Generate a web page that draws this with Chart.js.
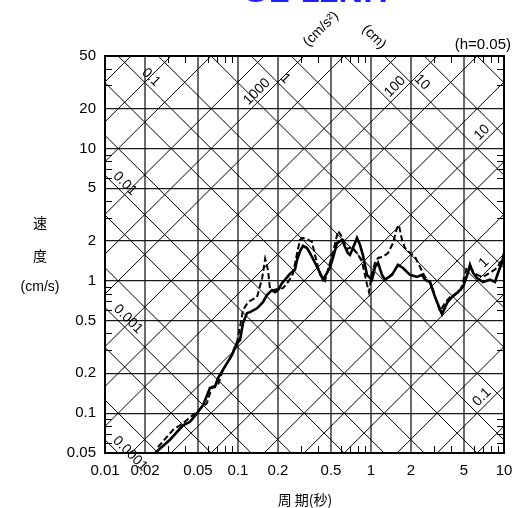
<!DOCTYPE html>
<html><head><meta charset="utf-8">
<script src="https://cdn.jsdelivr.net/npm/chart.js@4.4.0/dist/chart.umd.min.js"></script>
<style>html,body{margin:0;padding:0;background:#fff;overflow:hidden}#wrap{width:512px;height:508px;position:relative}</style>
</head><body><div id="wrap"><canvas id="c" width="512" height="508"></canvas></div>
<script>
const titleText = 'GL-12NH';
const periodTicks = [0.01,0.02,0.05,0.1,0.2,0.5,1,2,5,10];
const periodTickLabels = ['0.01','0.02','0.05','0.1','0.2','0.5','1','2','5','10'];
const velocityTicks = [0.05,0.1,0.2,0.5,1,2,5,10,20,50];
const velocityTickLabels = ['0.05','0.1','0.2','0.5','1','2','5','10','20','50'];

const solidPeriods = [0.0238,0.0308,0.0386,0.0436,0.0492,0.0546,0.0616,0.0671,0.0707,0.0827,0.0902,0.0983,0.1035,0.109,0.117,0.123,0.139,0.154,0.165,0.180,0.190,0.200,0.214,0.226,0.246,0.268,0.278,0.293,0.308,0.330,0.348,0.379,0.414,0.436,0.467,0.492,0.518,0.555,0.605,0.638,0.671,0.695,0.758,0.785,0.827,0.871,0.933,1.017,1.072,1.129,1.21,1.274,1.439,1.596,1.740,1.964,2.218,2.418,2.547,2.777,3.03,3.42,3.73,4.07,4.43,4.92,5.36,5.55,5.85,6.27,6.95,7.85,8.56,9.02,9.66,10.0];
const solidVelocity = [0.050,0.063,0.081,0.086,0.100,0.115,0.155,0.158,0.184,0.239,0.275,0.339,0.357,0.48,0.571,0.58,0.62,0.69,0.78,0.85,0.82,0.85,0.96,1.02,1.13,1.21,1.44,1.68,1.84,1.77,1.62,1.37,1.15,1.02,1.15,1.27,1.49,1.93,2.04,1.80,1.62,1.57,1.93,2.11,1.87,1.55,1.11,1.02,1.27,1.37,1.11,1.02,1.11,1.32,1.25,1.11,1.07,1.11,1.02,0.98,0.755,0.56,0.68,0.755,0.81,0.90,1.15,1.32,1.15,1.05,0.98,1.02,0.98,1.15,1.37,1.62];

const dashedPeriods = [0.025,0.0324,0.0386,0.0458,0.0584,0.0637,0.0707,0.0770,0.0871,0.0983,0.1035,0.109,0.119,0.139,0.152,0.160,0.168,0.174,0.183,0.200,0.218,0.238,0.259,0.278,0.293,0.303,0.330,0.360,0.379,0.414,0.451,0.475,0.518,0.565,0.605,0.660,0.719,0.785,0.856,0.933,0.966,1.017,1.072,1.129,1.23,1.342,1.464,1.569,1.62,1.711,1.801,1.964,2.142,2.336,2.547,2.777,2.926,3.30,3.60,3.93,4.43,4.67,5.27,5.55,6.27,6.95,7.85,8.86,9.33,10.0];
const dashedVelocity = [0.0554,0.0746,0.084,0.0967,0.119,0.158,0.163,0.212,0.26,0.344,0.447,0.60,0.69,0.755,1.05,1.47,1.21,0.87,0.85,0.87,0.88,0.98,1.13,1.62,2.04,2.11,2.07,1.97,1.57,1.11,1.0,1.21,1.65,2.38,2.15,1.74,1.80,1.62,1.40,0.94,0.82,1.15,1.37,1.49,1.52,1.62,1.93,2.51,2.64,2.04,1.77,1.62,1.52,1.27,1.07,0.98,0.85,0.59,0.68,0.755,0.81,0.82,1.27,1.25,1.11,1.07,1.15,1.25,1.37,1.52];

// diagonal grid values: displacement (cm) and acceleration (cm/s^2)
const dispLineValues = [];
const accLineValues = [];
for (let e = -5; e <= 3; e++) for (const m of [1,2,5]) dispLineValues.push(m*Math.pow(10,e));
for (let e = -2; e <= 6; e++) for (const m of [1,2,5]) accLineValues.push(m*Math.pow(10,e));
const dispLabelText = ['0.0001','0.001','0.01','0.1','1','10'];
const dispLabelValue = [0.0001,0.001,0.01,0.1,1,10];
const dispLabelPeriod = [0.0140,0.0135,0.0128,0.0201,0.205,2.19];
const accLabelText = ['1000','100','10','1','0.1'];
const accLabelValue = [1000,100,10,1,0.1];
const accLabelPeriod = [0.153,1.67,7.53,7.79,7.53];
const minorMultipliers = [3,4,6,7,8,9];

const FONT = 'Liberation Sans, Arial, sans-serif';
const CJK = 'Noto Sans CJK JP, sans-serif';
const TWO_PI = 2*Math.PI;

const tripartite = {
  id: 'tripartite',
  beforeDatasetsDraw(chart) {
    const {ctx, chartArea: a, scales: {x, y}} = chart;
    ctx.save();
    ctx.beginPath(); ctx.rect(a.left, a.top, a.right-a.left, a.bottom-a.top); ctx.clip();
    ctx.strokeStyle = '#000'; ctx.lineWidth = 1;
    const T1 = 0.001, T2 = 100;
    for (const D of dispLineValues) {
      ctx.beginPath();
      ctx.moveTo(x.getPixelForValue(T1), y.getPixelForValue(TWO_PI*D/T1));
      ctx.lineTo(x.getPixelForValue(T2), y.getPixelForValue(TWO_PI*D/T2));
      ctx.stroke();
    }
    for (const A of accLineValues) {
      ctx.beginPath();
      ctx.moveTo(x.getPixelForValue(T1), y.getPixelForValue(A*T1/TWO_PI));
      ctx.lineTo(x.getPixelForValue(T2), y.getPixelForValue(A*T2/TWO_PI));
      ctx.stroke();
    }
    ctx.restore();
  },
  afterDraw(chart) {
    const {ctx, chartArea: a, scales: {x, y}} = chart;
    ctx.save();
    // minor ticks
    ctx.strokeStyle = '#000'; ctx.lineWidth = 1;
    const L = 7;
    for (const dec of [0.01,0.1,1]) for (const m of minorMultipliers) {
      const px = Math.round(x.getPixelForValue(m*dec)) + 0.5;
      ctx.beginPath();
      ctx.moveTo(px, a.bottom); ctx.lineTo(px, a.bottom-L);
      ctx.moveTo(px, a.top); ctx.lineTo(px, a.top+L);
      ctx.stroke();
    }
    for (const dec of [0.01,0.1,1,10]) for (const m of minorMultipliers) {
      const v = m*dec;
      if (v <= 0.05 || v >= 50) continue;
      const py = Math.round(y.getPixelForValue(v)) + 0.5;
      ctx.beginPath();
      ctx.moveTo(a.left, py); ctx.lineTo(a.left+L, py);
      ctx.moveTo(a.right, py); ctx.lineTo(a.right-L, py);
      ctx.stroke();
    }
    // frame
    ctx.lineWidth = 2;
    ctx.strokeRect(a.left, a.top, a.right-a.left, a.bottom-a.top);
    // diagonal labels
    ctx.fillStyle = '#000';
    ctx.font = '14px ' + FONT;
    ctx.textAlign = 'center'; ctx.textBaseline = 'bottom';
    dispLabelText.forEach((t, i) => {
      const T = dispLabelPeriod[i];
      const px = x.getPixelForValue(T), py = y.getPixelForValue(TWO_PI*dispLabelValue[i]/T);
      ctx.save(); ctx.translate(px, py); ctx.rotate(Math.PI/4); ctx.fillText(t, 0, -1); ctx.restore();
    });
    accLabelText.forEach((t, i) => {
      const T = accLabelPeriod[i];
      const px = x.getPixelForValue(T), py = y.getPixelForValue(accLabelValue[i]*T/TWO_PI);
      ctx.save(); ctx.translate(px, py); ctx.rotate(-Math.PI/4); ctx.fillText(t, 0, -1); ctx.restore();
    });
    // unit labels
    ctx.textBaseline = 'middle';
    ctx.font = '14px ' + FONT;
    ctx.save(); ctx.translate(321, 29); ctx.rotate(-Math.PI/4); ctx.fillText('(cm/s²)', 0, 0); ctx.restore();
    ctx.save(); ctx.translate(374, 37); ctx.rotate(Math.PI/4); ctx.fillText('(cm)', 0, 0); ctx.restore();
    ctx.font = '15px ' + FONT;
    ctx.textAlign = 'right';
    ctx.fillText('(h=0.05)', 511, 45);
    // axis titles
    ctx.textAlign = 'center';
    ctx.font = '14px ' + CJK;
    ctx.fillText('速', 40, 223);
    ctx.fillText('度', 40, 256);
    ctx.font = '14px ' + FONT;
    ctx.fillText('(cm/s)', 40, 287);
    ctx.font = '14px ' + CJK;
    ctx.fillText('周 期(秒)', 305, 500);
    // cut-off title
    ctx.fillStyle = '#1e1eff';
    ctx.font = 'bold 34px ' + FONT;
    ctx.textBaseline = 'alphabetic';
    ctx.fillText(titleText, 315, 2);
    ctx.restore();
  }
};

const tickFont = {family: FONT, size: 15};
new Chart(document.getElementById('c'), {
  type: 'line',
  data: {datasets: [
    {data: solidPeriods.map((t,i)=>({x:t, y:solidVelocity[i]})), borderColor:'#000', borderWidth:2.6, pointRadius:0, fill:false, tension:0},
    {data: dashedPeriods.map((t,i)=>({x:t, y:dashedVelocity[i]})), borderColor:'#000', borderWidth:2, borderDash:[6,3], pointRadius:0, fill:false, tension:0}
  ]},
  options: {
    responsive:false, animation:false, devicePixelRatio:1,
    layout:{padding:{top:56, right:8, left:0, bottom:0}},
    plugins:{legend:{display:false}, tooltip:{enabled:false}, title:{display:false}},
    scales: {
      x: {type:'logarithmic', min:0.01, max:10, position:'bottom',
        afterBuildTicks: s => { s.ticks = periodTicks.map(v=>({value:v})); },
        afterFit: s => { s.height = 55; s.paddingLeft = 0; s.paddingRight = 0; },
        ticks:{autoSkip:false, maxRotation:0, minRotation:0, padding:9, color:'#000', font:tickFont, callback:(v,i)=>periodTickLabels[i]},
        grid:{color:'#6a6a6a', lineWidth:2, drawTicks:false},
        border:{display:false}},
      y: {type:'logarithmic', min:0.05, max:50, position:'left',
        afterBuildTicks: s => { s.ticks = velocityTicks.map(v=>({value:v})); },
        afterFit: s => { s.width = 105; s.paddingTop = 0; s.paddingBottom = 0; },
        ticks:{autoSkip:false, padding:9, color:'#000', font:tickFont, callback:(v,i)=>velocityTickLabels[i]},
        grid:{color:'#1a1a1a', lineWidth:1.3, drawTicks:false},
        border:{display:false}}
    }
  },
  plugins:[tripartite]
});
</script></body></html>
